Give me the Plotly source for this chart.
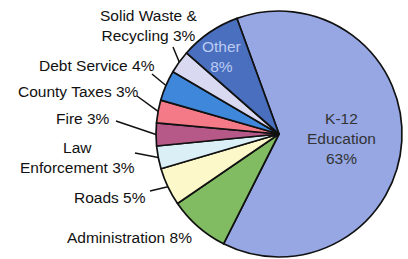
import math
import plotly.graph_objects as go

# ---- data ----
categories = ["K-12 Education", "Administration", "Roads", "Law Enforcement",
              "Fire", "County Taxes", "Debt Service", "Solid Waste & Recycling", "Other"]
shares = [63, 8, 5, 3, 3, 3, 4, 3, 8]
colors = ["#96a7e4", "#82bc62", "#fdf8c9", "#dbeff7", "#b65888",
          "#f47a88", "#3f87da", "#d9d9f1", "#4a6fbf"]
label_texts = ["K-12<br>Education<br>63%", "Administration 8%", "Roads 5%",
               "Law<br>Enforcement 3%", "Fire 3%", "County Taxes 3%",
               "Debt Service 4%", "Solid Waste &<br>Recycling 3%", "Other<br>8%"]

W, H = 408, 259
CX, CY, R = 279, 134, 123
ROT = 340

def px(x, y):
    return x / W, 1 - y / H

fig = go.Figure()
fig.add_trace(go.Pie(
    labels=categories, values=shares, sort=False, direction="clockwise",
    rotation=ROT, textinfo="none", hoverinfo="label+percent",
    marker=dict(colors=colors, line=dict(color="#111111", width=1.7)),
    domain=dict(x=[(CX - R) / W, (CX + R) / W], y=[1 - (CY + R) / H, 1 - (CY - R) / H]),
    showlegend=False,
))

# label placement (pixel positions) and leader start points
label_pos = [(341, 138), (129, 237), (110, 197), (77, 157), (83, 119),
             (78, 92), (97, 66), (148, 25), (222, 56)]
leader_start = [None, None, (150, 191), (135, 153), (116, 121),
                (137, 96), (152, 74), (173, 47), None]
label_colors = ["#333333"] + ["#111111"] * 7 + ["#bccbf2"]

total = sum(shares)
cum = 0
for i, v in enumerate(shares):
    mid = math.radians(ROT + 360 * (cum + v / 2) / total)
    cum += v
    ex, ey = CX + R * math.sin(mid), CY - R * math.cos(mid)
    x, y = px(*label_pos[i])
    fig.add_annotation(x=x, y=y, xref="paper", yref="paper", text=label_texts[i],
                       showarrow=False, font=dict(size=15.5, color=label_colors[i]),
                       xanchor="center", yanchor="middle", align="center")
    if leader_start[i] is not None:
        sx, sy = px(*leader_start[i])
        qx, qy = px(ex, ey)
        fig.add_shape(type="line", xref="paper", yref="paper", x0=sx, y0=sy, x1=qx, y1=qy,
                      line=dict(color="#111111", width=1.5))

fig.update_layout(
    width=W, height=H, margin=dict(l=0, r=0, t=0, b=0),
    paper_bgcolor="white", plot_bgcolor="white",
    font=dict(family="Arial, Liberation Sans, sans-serif", size=15.5, color="#111111"),
)
fig.write_html("out.html", config={"displayModeBar": False},
               post_script="document.body.style.margin='0';document.body.style.overflow='hidden';")
